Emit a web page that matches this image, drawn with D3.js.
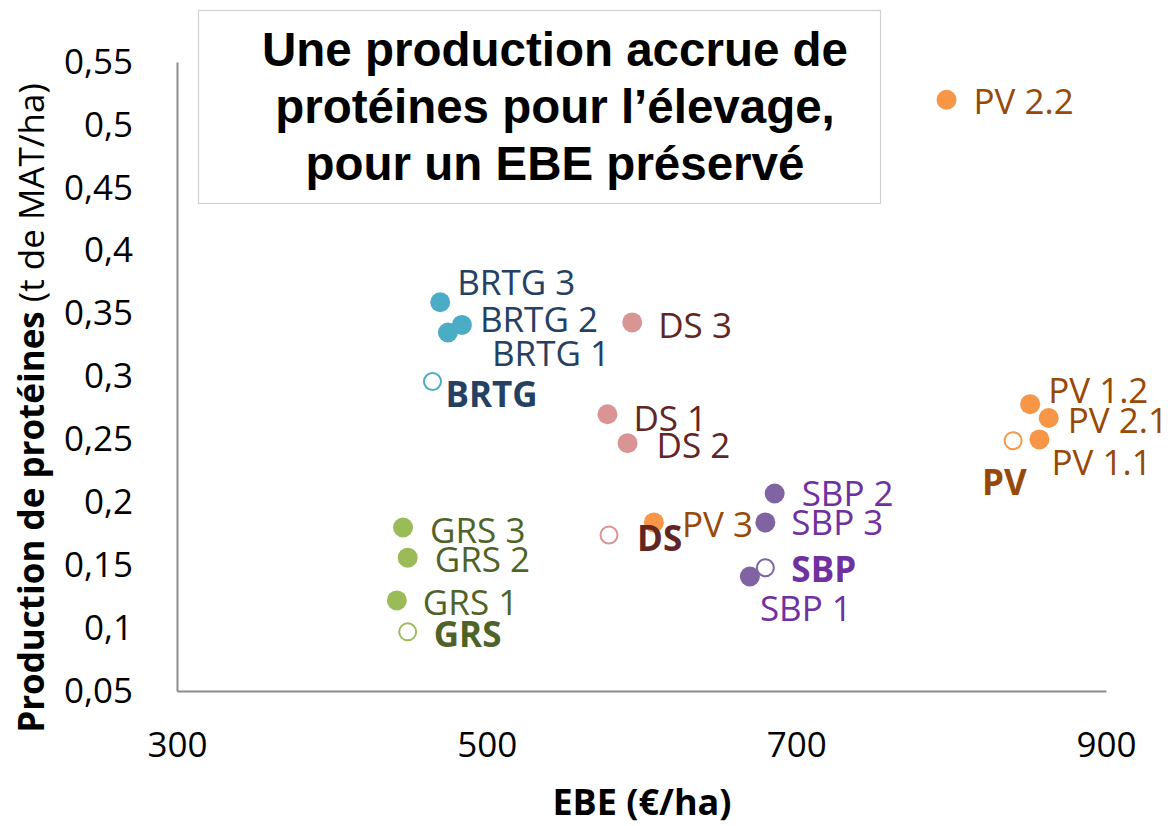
<!DOCTYPE html>
<html>
<head>
<meta charset="utf-8">
<script src="https://cdn.jsdelivr.net/npm/d3@7"></script>
<style>
  body { margin: 0; background: #fff; }
  svg { display: block; }
</style>
</head>
<body>
<svg id="chart" width="1175" height="826"></svg>
<script>
// values
var labels    = ["BRTG 3", "BRTG 2", "BRTG 1", "BRTG",
                 "DS 3", "DS 1", "DS 2", "DS",
                 "GRS 3", "GRS 2", "GRS 1", "GRS",
                 "SBP 2", "SBP 3", "SBP", "SBP 1",
                 "PV 3", "PV 2.2", "PV 1.2", "PV 2.1", "PV 1.1", "PV"];
var groups    = ["BRTG", "BRTG", "BRTG", "BRTG",
                 "DS", "DS", "DS", "DS",
                 "GRS", "GRS", "GRS", "GRS",
                 "SBP", "SBP", "SBP", "SBP",
                 "PV", "PV", "PV", "PV", "PV", "PV"];
var ebe       = [470, 484, 475, 465,
                 594, 578, 591, 579,
                 446, 449, 442, 449,
                 686, 680, 680, 670,
                 608, 797, 851, 863, 857, 840];
var proteines = [0.359, 0.341, 0.335, 0.296,
                 0.343, 0.270, 0.247, 0.174,
                 0.180, 0.156, 0.122, 0.097,
                 0.207, 0.184, 0.148, 0.141,
                 0.184, 0.520, 0.278, 0.267, 0.250, 0.249];
var xTicks = [300, 500, 700, 900];
var yTicks = [0.05, 0.1, 0.15, 0.2, 0.25, 0.3, 0.35, 0.4, 0.45, 0.5, 0.55];
var titleLines = ["Une production accrue de", "protéines pour l’élevage,", "pour un EBE préservé"];

// where each label sits next to its point (px)
var labelDx = [17, 18, 44, 13, 26, 26, 29, 28, 27, 27, 26, 26, 27, 26, 26, 10, 28, 27, 18, 19, 12, -31];
var labelDy = [-20, -6, 21, 13, 3, 4, 2, 3, 3, 2, 2, 3, 0, 0, 2, 32, 2, 2, -14, 2, 23, 42];

var dotColor  = {BRTG: "#4bacc6", DS: "#d99594", GRS: "#9bbb59", SBP: "#8064a2", PV: "#f79646"};
var textColor = {BRTG: "#244062", DS: "#632523", GRS: "#4f6228", SBP: "#7030a0", PV: "#984807"};

var svg = d3.select("#chart");
var font = "'Open Sans', sans-serif";

var x = d3.scaleLinear().domain([300, 900]).range([177, 1106]);
var y = d3.scaleLinear().domain([0.05, 0.55]).range([691, 62]);

var fmt = function(d) { return String(+d.toFixed(2)).replace(".", ","); };

// title box
svg.append("rect")
    .attr("x", 198.5).attr("y", 10.5)
    .attr("width", 682).attr("height", 193)
    .attr("fill", "#fff")
    .attr("stroke", "#d0d0d0")
    .attr("stroke-width", 1.2);

svg.append("g").selectAll("text")
    .data(titleLines)
  .enter().append("text")
    .attr("x", 555)
    .attr("y", function(d, i) { return 66 + i * 57; })
    .attr("text-anchor", "middle")
    .style("font-family", "'Liberation Sans', Arial, sans-serif")
    .style("font-weight", "bold")
    .style("font-size", "47.5px")
    .style("fill", "#000")
    .text(function(d) { return d; });

// axes
var xAxis = svg.append("g")
    .attr("transform", "translate(0,691)")
    .call(d3.axisBottom(x).tickValues(xTicks).tickSize(0).tickPadding(41));
var yAxis = svg.append("g")
    .attr("transform", "translate(177,0)")
    .call(d3.axisLeft(y).tickValues(yTicks).tickSize(0).tickPadding(44).tickFormat(fmt));

[xAxis, yAxis].forEach(function(a) {
    a.select(".domain").attr("stroke", "#8c8c8c").attr("stroke-width", 2);
    a.selectAll("text")
        .style("font-family", font)
        .style("font-size", "35px")
        .style("fill", "#000");
});

// axis titles
svg.append("text")
    .attr("x", 642).attr("y", 815)
    .attr("text-anchor", "middle")
    .style("font-family", font)
    .style("font-weight", "bold")
    .style("font-size", "36px")
    .text("EBE (€/ha)");

var yt = svg.append("text")
    .attr("transform", "translate(44,408) rotate(-90)")
    .attr("text-anchor", "middle")
    .style("font-family", font)
    .style("font-size", "35px");
yt.append("tspan").style("font-weight", "bold").text("Production de protéines ");
yt.append("tspan").text("(t de MAT/ha)");

// points
var idx = d3.range(labels.length);

svg.append("g").selectAll("circle")
    .data(idx)
  .enter().append("circle")
    .attr("cx", function(i) { return x(ebe[i]); })
    .attr("cy", function(i) { return y(proteines[i]); })
    .attr("r", function(i) { return labels[i] === groups[i] ? 8.5 : 10; })
    .attr("fill", function(i) { return labels[i] === groups[i] ? "#fff" : dotColor[groups[i]]; })
    .attr("stroke", function(i) { return labels[i] === groups[i] ? dotColor[groups[i]] : "none"; })
    .attr("stroke-width", 2);

// labels
svg.append("g").selectAll("text")
    .data(idx)
  .enter().append("text")
    .attr("x", function(i) { return x(ebe[i]) + labelDx[i]; })
    .attr("y", function(i) { return y(proteines[i]) + labelDy[i]; })
    .attr("dy", "0.36em")
    .style("font-family", font)
    .style("font-size", "35px")
    .style("font-weight", function(i) { return labels[i] === groups[i] ? "bold" : "normal"; })
    .style("fill", function(i) { return textColor[groups[i]]; })
    .text(function(i) { return labels[i]; });
</script>
</body>
</html>
